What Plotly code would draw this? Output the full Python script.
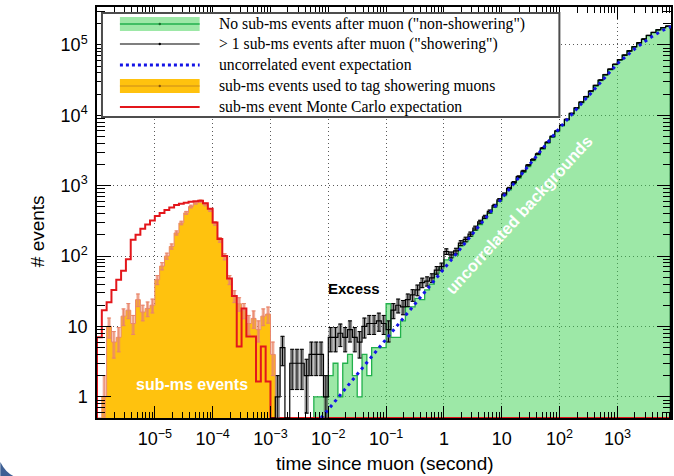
import numpy as np
import plotly.graph_objects as go

# ---------------------------------------------------------------------------
# Histogram binning: 12 logarithmic bins per decade, starting at 1 microsecond
# ---------------------------------------------------------------------------
BINS_PER_DECADE = 12
N_BINS = 119
edges = 10.0 ** (-6 + np.arange(N_BINS + 1) / BINS_PER_DECADE)

# sub-ms events used to tag showering muons (bins 0..36)
sub_ms_first = 0
sub_ms_counts = [0, 1, 10, 6, 7, 14, 17, 11, 24, 16, 18, 20, 46, 72, 100, 137,
                 213, 295, 410, 505, 570, 600, 540, 450, 290, 170, 98, 46, 27,
                 21, 17, 11, 13, 9, 14, 15, 4]

# sub-ms event Monte Carlo expectation (bins 0..35, empty afterwards)
mc_first = 0
mc_counts = [7, 17, 22, 33, 46, 62, 90, 170, 200, 245, 280, 320, 370, 410, 450,
             490, 530, 555, 570, 590, 600, 610, 560, 470, 300, 175, 100, 48,
             27, 5.2, 18, 7.2, 7.2, 1.65, 5.2, 1.65]

# > 1 sub-ms events after muon ("showering"), bins 36..118
show_first = 36
show_counts = [0, 1, 5, 0, 3, 3, 3, 2, 4, 4, 4, 1, 7, 7, 8, 7, 9, 7, 6, 10, 11,
               11, 12, 11, 9, 17, 20, 19, 24, 28, 33, 42, 44, 49, 63, 71, 116,
               104, 118, 153, 172, 205, 250, 305, 360, 430, 520, 630, 760, 915,
               1110, 1340, 1610, 1950, 2350, 2840, 3420, 4130, 5000, 6020, 7260,
               8750, 10600, 12750, 15350, 18400, 22100, 26500, 31700, 37850,
               45100, 53000, 61500, 71500, 82000, 94000, 107000, 121000,
               136000, 150000, 164000, 176000, 184000]

# no sub-ms events after muon ("non-showering"), bins 45..118
nonshow_first = 45
nonshow_counts = [1, 1, 1, 2, 3, 1, 3, 4, 2, 1, 4, 2, 5, 5, 5, 21, 7, 7, 12, 19,
                  19, 25, 24, 33, 40, 57, 68, 88, 95, 103, 140, 160, 190, 232,
                  280, 340, 405, 495, 600, 720, 870, 1060, 1280, 1545, 1870,
                  2265, 2745, 3310, 4005, 4850, 5850, 7060, 8520, 10330, 12440,
                  15000, 18020, 21660, 26000, 31120, 37220, 44200, 52300, 60800,
                  70900, 81400, 93200, 106000, 120000, 135000, 149000, 163000,
                  175000, 183000]

# uncorrelated event expectation
expect_time = [0.0075, 0.01, 0.1, 1, 10, 100, 1000, 2000, 3000, 4000, 6000, 8500]
expect_counts = [0.5, 0.66, 6.6, 66, 650, 6600, 54000, 88000, 112000, 132000,
                 160000, 182000]

# axis ticks
x_tickvals = [1e-5, 1e-4, 1e-3, 1e-2, 1e-1, 1, 10, 100, 1000]
x_ticktext = ["10<sup>\u22125</sup>", "10<sup>\u22124</sup>", "10<sup>\u22123</sup>",
              "10<sup>\u22122</sup>", "10<sup>\u22121</sup>", "1", "10",
              "10<sup>2</sup>", "10<sup>3</sup>"]
y_tickvals = [1, 10, 100, 1e3, 1e4, 1e5]
y_ticktext = ["1", "10", "10<sup>2</sup>", "10<sup>3</sup>", "10<sup>4</sup>",
              "10<sup>5</sup>"]

legend_labels = [
    'No sub-ms events after muon ("non-showering")',
    '> 1 sub-ms events after muon ("showering")',
    'uncorrelated event expectation',
    'sub-ms events used to tag showering muons',
    'sub-ms event Monte Carlo expectation',
]

# ---------------------------------------------------------------------------
W, H = 674, 476
ML, MR, MT, MB = 97, 1, 7, 58
PW, PH = W - ML - MR, H - MT - MB
Y_LO, Y_HI = 0.5, 3.45e5
FLOOR = Y_LO
X_RANGE = [-6, float(np.log10(edges[-1])) + 0.01]
Y_RANGE = [float(np.log10(Y_LO)), float(np.log10(Y_HI))]

GREEN_FILL = "rgba(60,210,80,0.5)"
GREEN_LINE = "#22b14c"
ORANGE_FILL = "#ffc20e"
ORANGE_ERR = "#e9866b"
RED = "#e3161b"
BLUE = "#1414e6"
SANS = "Liberation Sans, Arial, sans-serif"
SERIF = "Liberation Serif, Times New Roman, serif"


def step_path(first, counts):
    e = edges[first:first + len(counts) + 1]
    xs, ys = [e[0]], [FLOOR]
    for i, c in enumerate(counts):
        v = c if c > 0 else FLOOR
        xs += [e[i], e[i + 1]]
        ys += [v, v]
    xs.append(e[-1])
    ys.append(FLOOR)
    return xs, ys


def centers(first, counts):
    lo = np.log10(edges[first:first + len(counts)])
    hi = np.log10(edges[first + 1:first + len(counts) + 1])
    return 10 ** ((lo + hi) / 2)


def error_boxes(first, counts, frac):
    xs, ys = [], []
    for i, c in enumerate(counts):
        if c <= 0:
            continue
        k = first + i
        l0, l1 = np.log10(edges[k]), np.log10(edges[k + 1])
        m, h = (l0 + l1) / 2, (l1 - l0) * frac / 2
        x0, x1 = 10 ** (m - h), 10 ** (m + h)
        err = np.sqrt(c)
        y0, y1 = max(c - err, 0.3), c + err
        xs += [x0, x1, x1, x0, x0, None]
        ys += [y0, y0, y1, y1, y0, None]
    return xs, ys


def error_trace(first, counts, color, cap):
    c = np.asarray(counts, dtype=float)
    keep = c > 0
    err = np.sqrt(c[keep])
    minus = np.minimum(err, c[keep] - 0.3)
    return go.Scatter(
        x=centers(first, counts)[keep], y=c[keep], mode="markers",
        marker=dict(size=1, color="rgba(0,0,0,0)"),
        error_y=dict(type="data", array=err, arrayminus=minus, color=color,
                     thickness=1, width=cap),
        hoverinfo="skip", showlegend=False)


fig = go.Figure()

# non-showering: translucent green filled histogram
x, y = step_path(nonshow_first, nonshow_counts)
fig.add_trace(go.Scatter(x=x, y=y, mode="lines", fill="toself",
                         fillcolor=GREEN_FILL,
                         line=dict(color=GREEN_LINE, width=1.3),
                         hoverinfo="skip", showlegend=False))

# sub-ms tagged events: orange filled histogram with errors
x, y = step_path(sub_ms_first, sub_ms_counts)
fig.add_trace(go.Scatter(x=x, y=y, mode="lines", fill="toself",
                         fillcolor=ORANGE_FILL,
                         line=dict(color=ORANGE_ERR, width=1),
                         hoverinfo="skip", showlegend=False))
bx, by = error_boxes(sub_ms_first, sub_ms_counts, 0.45)
fig.add_trace(go.Scatter(x=bx, y=by, mode="lines", fill="toself",
                         fillcolor="rgba(240,150,120,0.45)",
                         line=dict(color=ORANGE_ERR, width=0.6),
                         hoverinfo="skip", showlegend=False))
fig.add_trace(error_trace(sub_ms_first, sub_ms_counts, ORANGE_ERR, 2))

# Monte Carlo expectation: red step line over the whole axis
mc_full = list(mc_counts) + [0] * (N_BINS - len(mc_counts))
x, y = step_path(mc_first, mc_full)
fig.add_trace(go.Scatter(x=x, y=y, mode="lines",
                         line=dict(color=RED, width=2),
                         hoverinfo="skip", showlegend=False))

# showering: black step line with grey error boxes and error bars
bx, by = error_boxes(show_first, show_counts, 0.7)
fig.add_trace(go.Scatter(x=bx, y=by, mode="lines", fill="toself",
                         fillcolor="rgba(110,110,110,0.6)",
                         line=dict(color="rgba(70,70,70,0.8)", width=0.6),
                         hoverinfo="skip", showlegend=False))
x, y = step_path(show_first, show_counts)
fig.add_trace(go.Scatter(x=x, y=y, mode="lines",
                         line=dict(color="black", width=1.2),
                         hoverinfo="skip", showlegend=False))
fig.add_trace(error_trace(show_first, show_counts, "black", 2))

# uncorrelated expectation: blue dotted line
fig.add_trace(go.Scatter(x=expect_time, y=expect_counts, mode="lines",
                         line=dict(color=BLUE, width=3, dash="3px,4px"),
                         hoverinfo="skip", showlegend=False))

# invisible trace that carries the mirrored (top / right) tick axes
fig.add_trace(go.Scatter(x=[1], y=[1], xaxis="x2", yaxis="y2", mode="markers",
                         marker=dict(size=1, color="rgba(0,0,0,0)"),
                         hoverinfo="skip", showlegend=False))


# ---------------------------------------------------------------------------
def pxx(px):
    return (px - ML) / PW


def pxy(py):
    return (H - MB - py) / PH


shapes = []
annotations = []

# legend frame
shapes.append(dict(type="rect", xref="paper", yref="paper", layer="above",
                   x0=pxx(102), x1=pxx(561), y0=pxy(117), y1=pxy(13),
                   fillcolor="white", line=dict(color="#4d4d4d", width=2)))
row_y = [24, 44, 65, 86, 107]
sx0, sx1, sxm = 120, 200, 160


def hline(py, color, width, dash="solid"):
    shapes.append(dict(type="line", xref="paper", yref="paper", layer="above",
                       x0=pxx(sx0), x1=pxx(sx1), y0=pxy(py), y1=pxy(py),
                       line=dict(color=color, width=width, dash=dash)))


def band(py, color):
    shapes.append(dict(type="rect", xref="paper", yref="paper", layer="above",
                       x0=pxx(sx0), x1=pxx(sx1), y0=pxy(py + 7), y1=pxy(py - 7),
                       fillcolor=color, line=dict(width=0)))


def dot(py, color):
    shapes.append(dict(type="circle", xref="paper", yref="paper", layer="above",
                       x0=pxx(sxm - 1.2), x1=pxx(sxm + 1.2),
                       y0=pxy(py + 1.2), y1=pxy(py - 1.2),
                       fillcolor=color, line=dict(width=0)))


band(row_y[0], GREEN_FILL)
hline(row_y[0], GREEN_LINE, 1.5)
dot(row_y[0], "#1a6b2c")
hline(row_y[1], "#555555", 1.5)
dot(row_y[1], "black")
hline(row_y[2], BLUE, 3, "3px,3px")
band(row_y[3], ORANGE_FILL)
hline(row_y[3], "#c98a1a", 1.2)
dot(row_y[3], "#8a5a10")
hline(row_y[4], RED, 2)

for py, text in zip(row_y, legend_labels):
    annotations.append(dict(xref="paper", yref="paper", x=pxx(217), y=pxy(py),
                            xanchor="left", yanchor="middle", showarrow=False,
                            text=text,
                            font=dict(family=SERIF, size=15.7, color="black")))


def label(px, py, text, size, color, angle=0):
    annotations.append(dict(xref="paper", yref="paper", x=pxx(px), y=pxy(py),
                            xanchor="center", yanchor="middle", showarrow=False,
                            text=text, textangle=angle,
                            font=dict(family=SANS, size=size, color=color)))


# in-plot labels
label(355, 288, "<b>Excess</b>", 15, "black")
label(192, 384, "<b>sub-ms events</b>", 16, "white")
label(520, 215, "<b>uncorrelated backgrounds</b>", 16.5, "white", -47.5)

# axis titles
label(386, 463, "time since muon (second)", 19, "black")
label(37, 231, "# events", 19, "black", -90)

# decorative corner
shapes.append(dict(type="path", xref="paper", yref="paper", layer="above",
                   path=f"M {pxx(0)},{pxy(462)} Q {pxx(5)},{pxy(472)} {pxx(13)},{pxy(476)} "
                        f"L {pxx(0)},{pxy(476)} Z",
                   fillcolor="#3d5f94", line=dict(width=0)))

minor_x = [m * 10.0 ** n for n in range(-6, 4) for m in range(2, 10)]
minor_y = [m * 10.0 ** n for n in range(-1, 6) for m in range(2, 10)]

axis_common = dict(
    type="log", showline=True, linecolor="black", linewidth=1.5,
    mirror=True, ticks="inside", tickcolor="black", tickwidth=1,
    zeroline=False, tickfont=dict(family=SANS, size=18, color="black"),
)
grid = dict(showgrid=True, gridcolor="#5a5a5a", griddash="1px,3px", gridwidth=1)

fig.update_layout(
    width=W, height=H, autosize=False,
    margin=dict(l=ML, r=MR, t=MT, b=MB),
    paper_bgcolor="white", plot_bgcolor="white",
    xaxis=dict(axis_common, **grid, range=X_RANGE,
               tickvals=x_tickvals, ticktext=x_ticktext, ticklen=12,
               ticklabelstandoff=4,
               minor=dict(ticks="inside", ticklen=6, tickvals=minor_x,
                          tickcolor="black", showgrid=False)),
    yaxis=dict(axis_common, **grid, range=Y_RANGE,
               tickvals=y_tickvals, ticktext=y_ticktext, ticklen=14,
               ticklabelstandoff=4,
               minor=dict(ticks="inside", ticklen=8, tickvals=minor_y,
                          tickcolor="black", showgrid=False)),
    xaxis2=dict(axis_common, range=X_RANGE, overlaying="x", side="top",
                anchor="y", showgrid=False, showticklabels=False,
                tickvals=x_tickvals, ticklen=12,
                minor=dict(ticks="inside", ticklen=6, tickvals=minor_x,
                           tickcolor="black", showgrid=False)),
    yaxis2=dict(axis_common, range=Y_RANGE, overlaying="y", side="right",
                anchor="x", showgrid=False, showticklabels=False,
                tickvals=y_tickvals, ticklen=14,
                minor=dict(ticks="inside", ticklen=8, tickvals=minor_y,
                           tickcolor="black", showgrid=False)),
    shapes=shapes, annotations=annotations, showlegend=False,
)

fig.write_html("out.html", config={"displayModeBar": False})
